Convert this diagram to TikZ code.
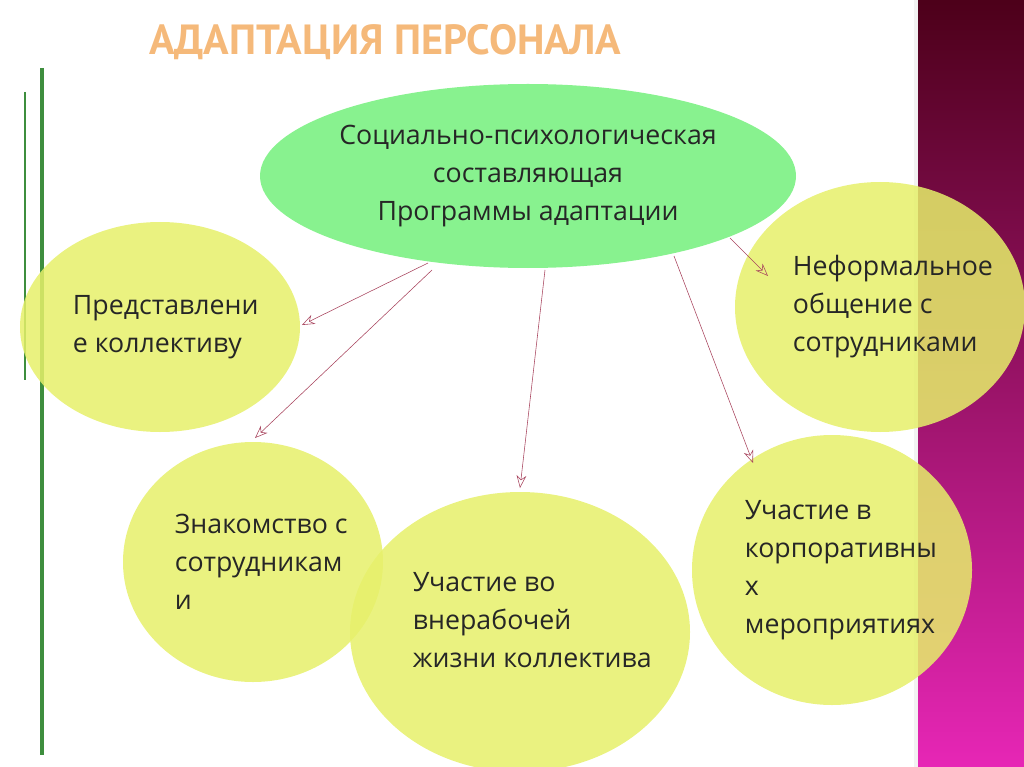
\documentclass[tikz,border=0pt]{standalone}
\usepackage{fontspec}
\setmainfont{Open Sans}
\newfontfamily\titlefont{PT Sans}
\usetikzlibrary{arrows.meta}
\definecolor{leafgreen}{HTML}{88F28F}
\definecolor{limey}{HTML}{E6F06A}
\definecolor{linkred}{HTML}{A8445E}
\definecolor{stripe}{HTML}{3E8E3E}
\definecolor{titleorange}{HTML}{F5B97A}
\tikzset{
  blob/.style={fill=limey,fill opacity=.85,text opacity=1},
  caption/.style={align=left,font=\fontsize{19}{27}\selectfont,text=black!85},
  link/.style={draw=linkred,thin,-{Stealth[open,length=9pt,width=7pt]}}
}
\begin{document}
\begin{tikzpicture}[x=0.025cm,y=-0.025cm]
  \useasboundingbox (0,0) rectangle (1024,767);
  \shade[top color=black!60!purple, bottom color=magenta!55!purple!85] (914,0) rectangle (1024,767);
  \fill[white!90!gray] (914,0) rectangle (918,767);
  \draw[stripe,line width=3pt] (42,68)--(42,755);
  \draw[stripe,line width=1.2pt] (25,92)--(25,380);
  \node[font=\titlefont\bfseries\fontsize{30}{32}\selectfont,text=titleorange,anchor=west] (title) at (145,42) {АДАПТАЦИЯ ПЕРСОНАЛА};

  % circles
  \fill[blob] (160,327) ellipse [x radius=140,y radius=105];
  \fill[blob] (880,307) ellipse [x radius=145,y radius=125];
  \fill[blob] (253,562) ellipse [x radius=130,y radius=120];
  \fill[blob] (832,570) ellipse [x radius=140,y radius=135];
  \fill[blob] (520,632) ellipse [x radius=170,y radius=140];
  \fill[leafgreen] (528,176) ellipse [x radius=268,y radius=92];

  \node[caption,align=center] (prog) at (528,176) {Социально-психологическая\\составляющая\\Программы адаптации};
  \node[caption,anchor=west] (team) at (68,327) {Представлени\\е коллективу};
  \node[caption,anchor=west] (talk) at (788,307) {Неформальное\\общение с\\сотрудниками};
  \node[caption,anchor=west] (meet) at (170,562) {Знакомство с\\сотрудникам\\и};
  \node[caption,anchor=west] (life) at (408,620) {Участие во\\внерабочей\\жизни коллектива};
  \node[caption,anchor=west] (corp) at (740,570) {Участие в\\корпоративны\\х\\мероприятиях};

  \coordinate (s1) at (428,263); \coordinate (e1) at (302,325);
  \coordinate (s2) at (432,270); \coordinate (e2) at (255,438);
  \coordinate (s3) at (545,270); \coordinate (e3) at (520,488);
  \coordinate (s4) at (674,256); \coordinate (e4) at (753,463);
  \coordinate (s5) at (730,238); \coordinate (e5) at (768,276);
  \foreach \i in {1,...,5}
    \draw[link] (s\i) -- (e\i);
\end{tikzpicture}
\end{document}
